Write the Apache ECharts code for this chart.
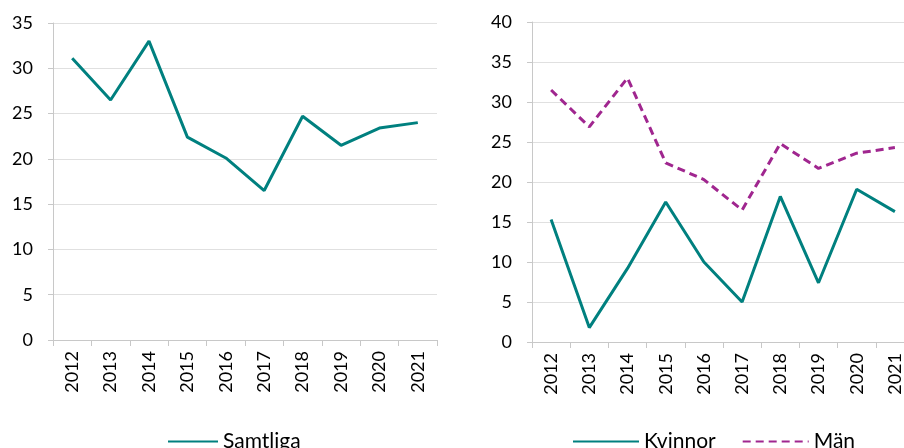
<!DOCTYPE html>
<html>
<head>
<meta charset="utf-8">
<script src="https://cdn.jsdelivr.net/npm/echarts@6/dist/echarts.min.js"></script>
<style>
html, body { margin: 0; padding: 0; overflow: hidden; background: #fff; }
#chart { width: 920px; height: 460px; }
</style>
</head>
<body>
<div id="chart"></div>
<script>
var years = ['2012', '2013', '2014', '2015', '2016', '2017', '2018', '2019', '2020', '2021'];
var samtliga = [31.1, 26.5, 33.0, 22.4, 20.1, 16.5, 24.7, 21.5, 23.4, 24.0];
var kvinnor = [15.3, 1.8, 9.2, 17.5, 10.0, 5.0, 18.2, 7.4, 19.1, 16.3];
var man = [31.5, 26.9, 33.0, 22.4, 20.3, 16.5, 24.8, 21.7, 23.6, 24.3];

var teal = '#00807f';
var purple = '#a0268f';
var font = 'Lato';

function xAxis(idx) {
    return {
        gridIndex: idx,
        type: 'category',
        data: years,
        axisLine: { lineStyle: { color: '#c8c8c8', width: 1 } },
        axisTick: { show: true, length: 6, lineStyle: { color: '#c8c8c8' } },
        axisLabel: { rotate: 90, margin: 11, color: '#000', fontSize: 18, fontFamily: font },
        splitLine: { show: false }
    };
}
function yAxis(idx, max) {
    return {
        gridIndex: idx,
        type: 'value',
        min: 0,
        max: max,
        interval: 5,
        axisLine: { show: true, lineStyle: { color: '#c8c8c8', width: 1 } },
        axisTick: { show: true, length: 5, lineStyle: { color: '#c8c8c8' } },
        axisLabel: { margin: 20, color: '#000', fontSize: 18, fontFamily: font },
        splitLine: { lineStyle: { color: '#e0e0e0', width: 1 } }
    };
}

var myChart = echarts.init(document.getElementById('chart'));
var option = {
    animation: false,
    grid: [
        { left: 53, width: 384, top: 23, height: 317 },
        { left: 532, width: 382, top: 22, height: 320 }
    ],
    xAxis: [xAxis(0), xAxis(1)],
    yAxis: [yAxis(0, 35), yAxis(1, 40)],
    legend: [
        {
            data: ['Samtliga'],
            left: 162, top: 426,
            itemWidth: 50, itemHeight: 4, itemGap: 20,
            itemStyle: { opacity: 0 },
            textStyle: { color: '#000', fontSize: 21, fontFamily: font }
        },
        {
            data: ['Kvinnor', 'Män'],
            left: 567, top: 426,
            itemWidth: 66, itemHeight: 4, itemGap: 26,
            itemStyle: { opacity: 0 },
            textStyle: { color: '#000', fontSize: 21, fontFamily: font }
        }
    ],
    series: [
        {
            name: 'Samtliga', type: 'line', data: samtliga,
            xAxisIndex: 0, yAxisIndex: 0,
            symbol: 'none', color: teal,
            lineStyle: { width: 3, color: teal }
        },
        {
            name: 'Kvinnor', type: 'line', data: kvinnor,
            xAxisIndex: 1, yAxisIndex: 1,
            symbol: 'none', color: teal,
            lineStyle: { width: 3, color: teal }
        },
        {
            name: 'Män', type: 'line', data: man,
            xAxisIndex: 1, yAxisIndex: 1,
            symbol: 'none', color: purple,
            lineStyle: { width: 3, color: purple, type: [8, 5] }
        }
    ]
};
myChart.setOption(option);
</script>
</body>
</html>
